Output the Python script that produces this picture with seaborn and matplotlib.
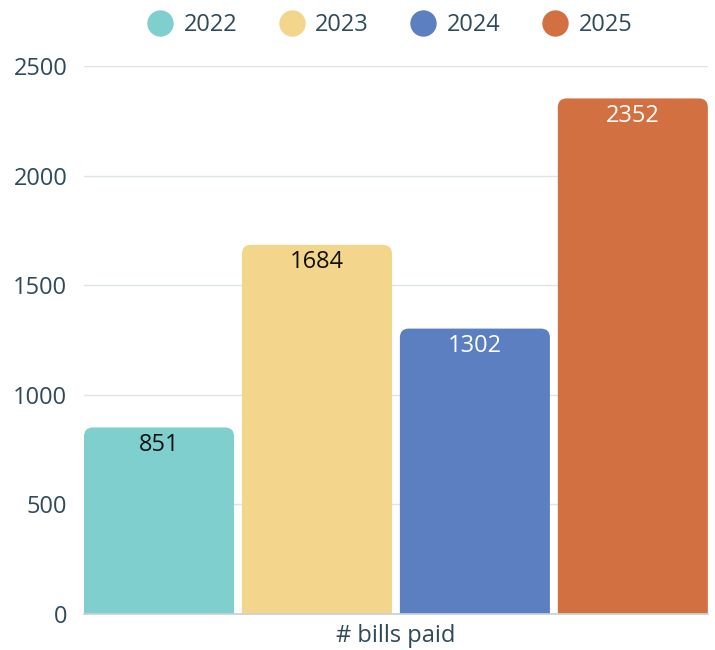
import pandas as pd
import matplotlib.pyplot as plt
import seaborn as sns
from matplotlib.patches import FancyBboxPatch
from matplotlib.lines import Line2D

# Data
years = ['2022', '2023', '2024', '2025']
bills_paid = [851, 1684, 1302, 2352]
category = '# bills paid'
colors = ['#7ECFCE', '#F3D58C', '#5B7FC1', '#D27042']
label_colors = ['#111111', '#111111', '#FFFFFF', '#FFFFFF']

df = pd.DataFrame({'metric': [category] * len(years), 'year': years, 'value': bills_paid})

sns.set_theme(style='white')
plt.rcParams['font.family'] = ['Open Sans', 'DejaVu Sans']
text_color = '#2F4A59'
fs = 17

fig = plt.figure(figsize=(7.15, 6.5), dpi=100)
ax = fig.add_axes([0.1175, 0.0554, 0.8725, 0.8431])

sns.barplot(data=df, x='metric', y='value', hue='year', palette=colors,
            width=1.0, gap=0.05, saturation=1, legend=False, ax=ax)

bars = list(ax.patches)
x_lo = min(p.get_x() for p in bars)
x_hi = max(p.get_x() + p.get_width() for p in bars)
ax.set_xlim(x_lo, x_hi)
ax.set_ylim(0, 2500)

# Replace bars with rounded-top versions
px_per_x = 624 / (x_hi - x_lo)
px_per_y = 548 / 2500
r_px = 9
rx = r_px / px_per_x
ry = r_px / px_per_y
for i, p in enumerate(bars):
    x0, w, h = p.get_x(), p.get_width(), p.get_height()
    fc = p.get_facecolor()
    p.remove()
    rb = FancyBboxPatch((x0, -3 * ry), w, h + 3 * ry,
                        boxstyle=f'round,pad=0,rounding_size={rx}',
                        mutation_aspect=ry / rx, facecolor=fc,
                        edgecolor='none', clip_on=True, zorder=2)
    ax.add_patch(rb)
    ax.text(x0 + w / 2, h - 78, str(bills_paid[i]), ha='center', va='center',
            fontsize=fs, color=label_colors[i], zorder=3)

# Axes styling
ax.set_yticks([0, 500, 1000, 1500, 2000, 2500])
ax.yaxis.grid(True, color='#DDE5E8', linewidth=1)
ax.set_axisbelow(True)
for s in ['top', 'right', 'left']:
    ax.spines[s].set_visible(False)
ax.spines['bottom'].set_color('#C8D2D6')
ax.tick_params(axis='y', labelsize=fs, labelcolor=text_color, length=0, pad=12)
ax.tick_params(axis='x', labelsize=fs, labelcolor=text_color, length=0, pad=7)
ax.set_xlabel('')
ax.set_ylabel('')

# Legend
handles = [Line2D([0], [0], marker='o', linestyle='', markersize=19,
                  markerfacecolor=c, markeredgecolor='none') for c in colors]
fig.legend(handles, years, loc='upper center', bbox_to_anchor=(0.541, 1.013),
           ncol=4, frameon=False, fontsize=fs, labelcolor=text_color,
           handletextpad=0.2, columnspacing=1.5, handlelength=1.6)

fig.savefig('out.png', dpi=100)
plt.close(fig)
